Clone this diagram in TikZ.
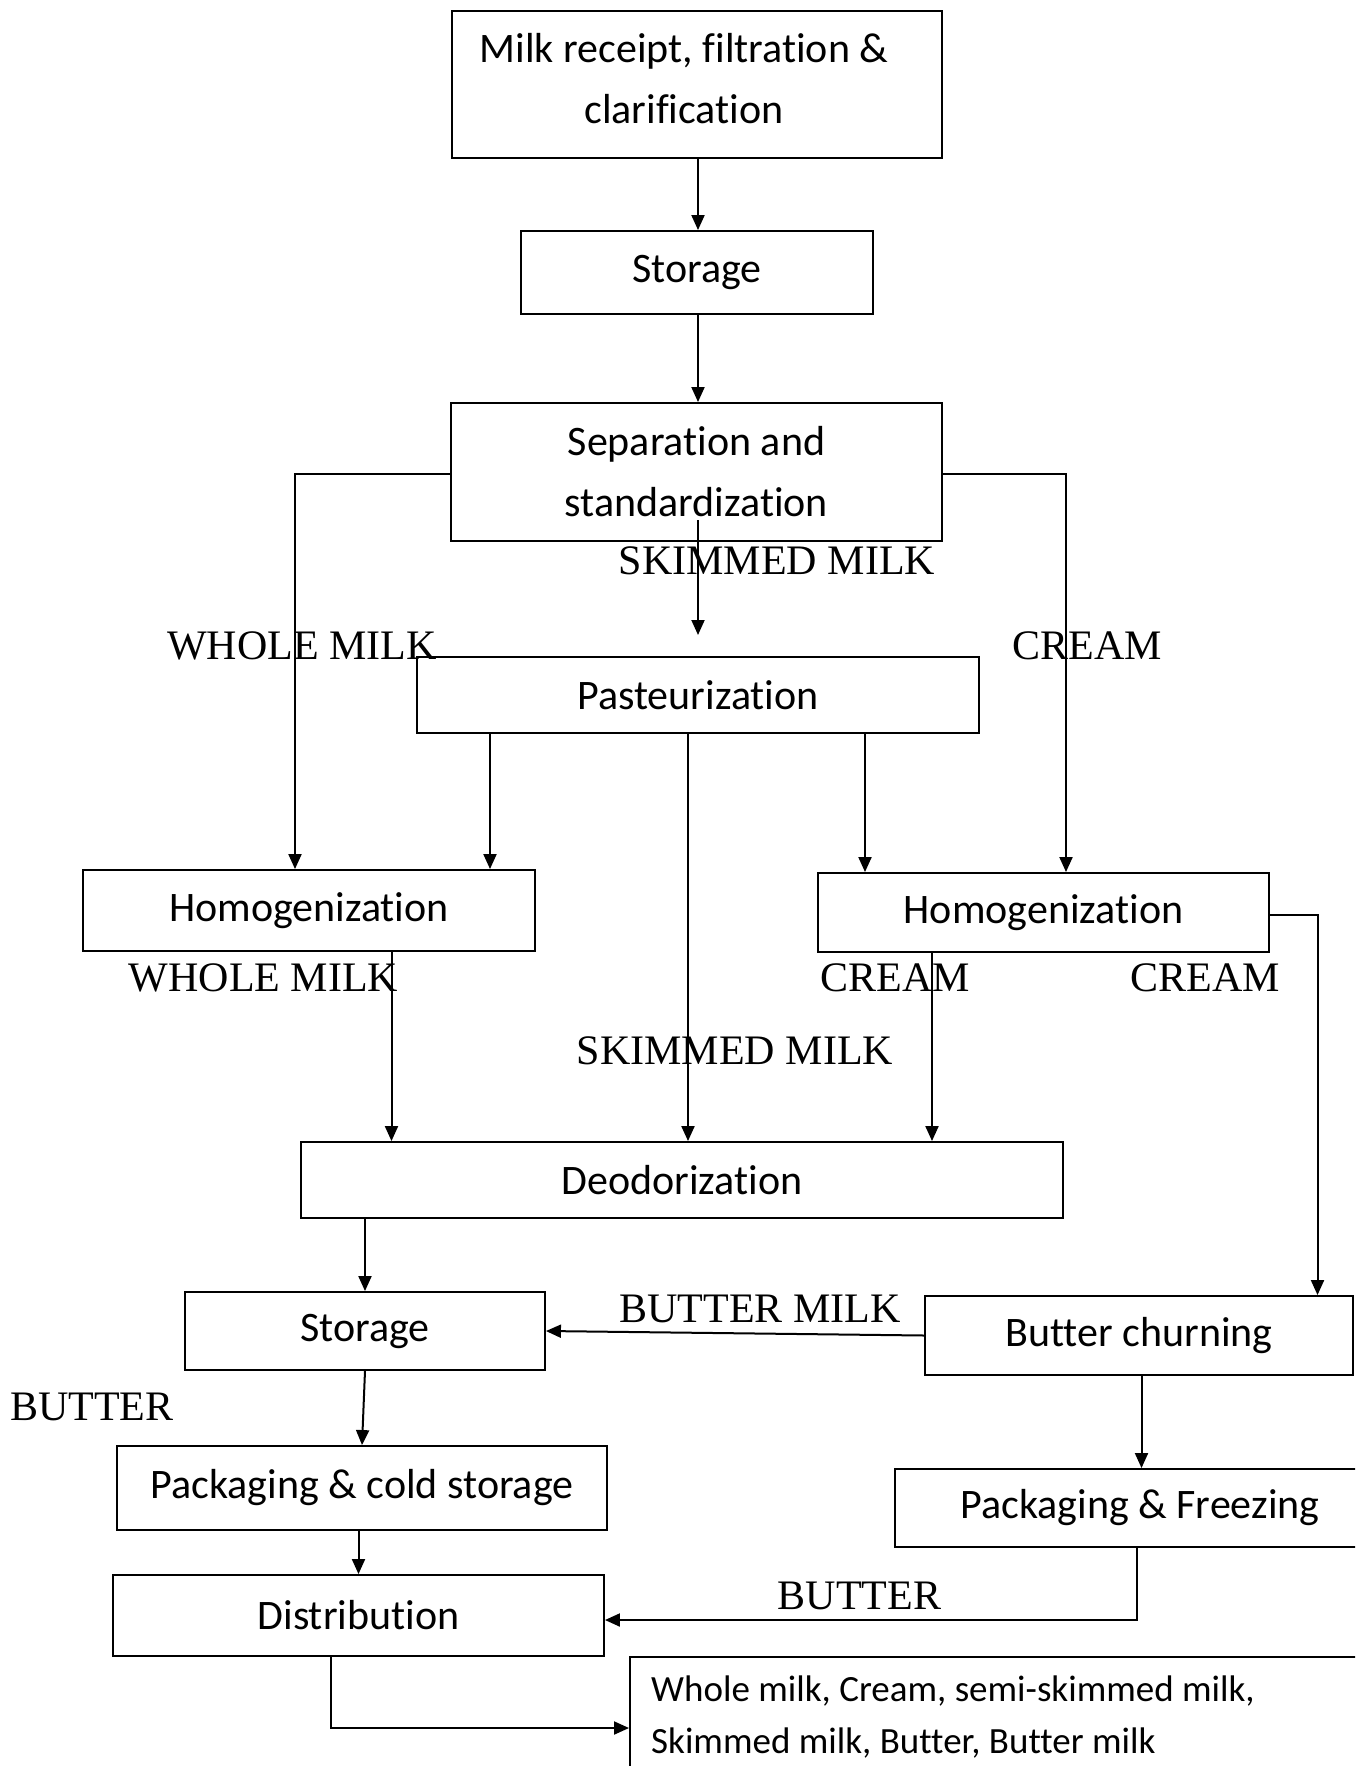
\documentclass[tikz,border=0pt]{standalone}
\usepackage{fontspec}
\setmainfont{Carlito}[Ligatures=NoCommon]
\newfontfamily\labfont{Liberation Serif}
\usetikzlibrary{arrows.meta}
\tikzset{
  box/.style={draw=black, line width=1.9pt, inner sep=0pt, align=center,
    font=\fontsize{42}{61}\selectfont},
  lab/.style={inner sep=0pt, font=\labfont\fontsize{42}{50}\selectfont},
  arr/.style={draw=black, line width=2pt, -{Triangle[length=15pt,width=13pt]}},
  txt/.style={inner sep=0pt, align=center, font=\fontsize{42}{61}\selectfont}
}
\begin{document}
\begin{tikzpicture}[x=1pt,y=-1pt]
\useasboundingbox (0,0) rectangle (1355,1766);
\clip (0,0) rectangle (1355,1766);
\fill[white] (0,0) rectangle (1355,1766);

% boxes
\node[box, minimum width=490pt, minimum height=147pt] (b1) at (697,84.5) {};
\node[txt] (b1t) at (684,79) {Milk receipt, filtration \&\\clarification};
\node[box, minimum width=352pt, minimum height=83pt] (s1) at (697,272.5) {Storage};
\node[box, minimum width=491pt, minimum height=138pt] (sep) at (696.5,472) {Separation and\\standardization};
\node[box, minimum width=562pt, minimum height=76pt] (past) at (698,695) {Pasteurization};
\node[box, minimum width=452pt, minimum height=81pt] (hl) at (309,910.5) {Homogenization};
\node[box, minimum width=451pt, minimum height=79pt] (hr) at (1043.5,912.5) {Homogenization};
\node[box, minimum width=762pt, minimum height=76pt] (deo) at (682,1180) {Deodorization};
\node[box, minimum width=360pt, minimum height=78pt] (s2) at (365,1331) {Storage};
\node[box, minimum width=428pt, minimum height=79pt] (bc) at (1139,1335.5) {Butter churning};
\node[box, minimum width=490pt, minimum height=84pt] (pcs) at (362,1488) {Packaging \& cold storage};
\node[box, minimum width=490pt, minimum height=78pt] (pf) at (1140,1508) {Packaging \& Freezing};
\node[box, minimum width=491pt, minimum height=81pt] (dist) at (358.5,1615.5) {Distribution};
\node[box, anchor=north west, minimum width=800pt, minimum height=200pt] (fin) at (629,1656) {};
\node[inner sep=0pt, anchor=west, align=left, font=\fontsize{37}{52}\selectfont] (fint) at (651,1717)
  {Whole milk, Cream, semi-skimmed milk,\\Skimmed milk, Butter, Butter milk};

% labels
\node[lab] (l1) at (777,561) {SKIMMED MILK};
\node[lab] (l2) at (302,646) {WHOLE MILK};
\node[lab] (l3) at (1087.5,646) {CREAM};
\node[lab] (l4) at (263.5,978) {WHOLE MILK};
\node[lab] (l5) at (895,978) {CREAM};
\node[lab] (l6) at (1205,978) {CREAM};
\node[lab] (l7) at (735,1051) {SKIMMED MILK};
\node[lab] (l8) at (760,1309) {BUTTER MILK};
\node[lab] (l9) at (92,1407) {BUTTER};
\node[lab] (l10) at (859.5,1596) {BUTTER};

% connectors
\coordinate (skimstart) at (698,520);
\coordinate (skimtip) at (698,635);
\draw[arr] ([xshift=1]b1.south) -- ([xshift=1]b1.south |- s1.north);
\draw[arr] ([xshift=1]s1.south) -- ([xshift=1]s1.south |- sep.north);
\draw[arr] (skimstart) -- (skimtip);
\draw[arr] ([yshift=-2]sep.west) -| ([xshift=-14]hl.north);
\draw[arr] ([yshift=-2]sep.east) -| ([xshift=22.5]hr.north);
\draw[arr] ([xshift=-208]past.south) -- ([xshift=-208]past.south |- hl.north);
\draw[arr] ([xshift=167]past.south) -- ([xshift=167]past.south |- hr.north);
\draw[arr] ([xshift=-10]past.south) -- ([xshift=-10]past.south |- deo.north);
\draw[arr] ([xshift=82.5]hl.south) -- ([xshift=82.5]hl.south |- deo.north);
\draw[arr] ([xshift=-111.5]hr.south) -- ([xshift=-111.5]hr.south |- deo.north);
\draw[arr] ([yshift=-2.5]hr.east) -| ([xshift=178.5]bc.north);
\draw[arr] (deo.south -| s2.north) -- (s2.north);
\draw[arr] (bc.west) -- (s2.east);
\draw[arr] (s2.south) -- (pcs.north);
\draw[arr] ([xshift=2.5]bc.south) -- ([xshift=2.5]bc.south |- pf.north);
\draw[arr] (pcs.south -| dist.north) -- (dist.north);
\draw[arr] ([xshift=-3]pf.south) |- ([yshift=-4.5]dist.east);
\draw[arr] ([xshift=-27.5]dist.south) |- ([yshift=-72]fin.north west);
\end{tikzpicture}
\end{document}
